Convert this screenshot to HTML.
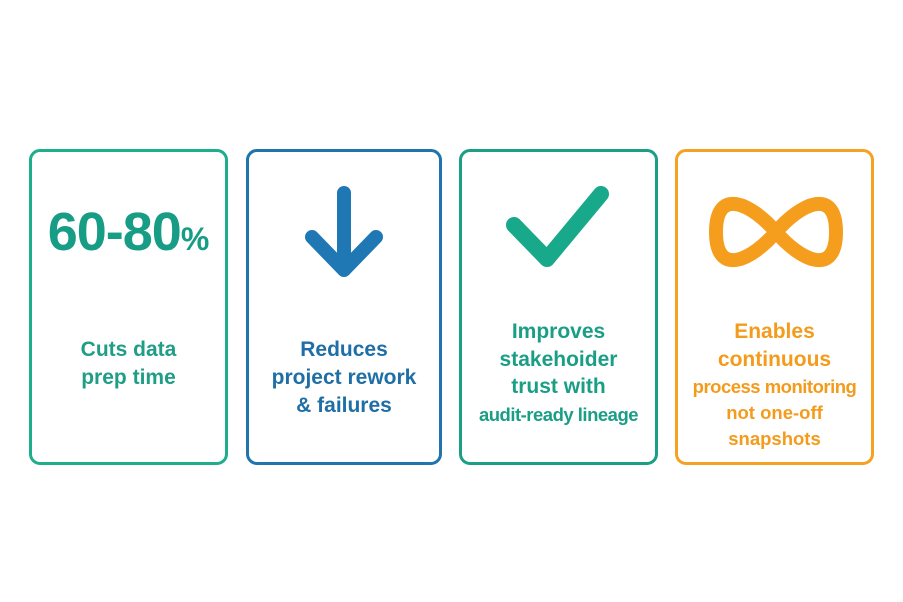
<!DOCTYPE html>
<html><head><style>
body{margin:0;width:903px;height:602px;background:#fff;position:relative;font-family:"Liberation Sans",sans-serif;overflow:hidden}
.card{position:absolute;top:149px;height:310px;border:3px solid;border-radius:11px;box-sizing:content-box}
.t{position:absolute;left:0;width:100%;text-align:center;font-weight:bold;white-space:nowrap;transform:translateY(-50%)}
svg{position:absolute;left:0;top:0}
</style></head><body>
<div class="card" style="left:29px;width:193px;border-color:#1fae8c"></div>
<div class="card" style="left:246px;width:190px;border-color:#1f74ad"></div>
<div class="card" style="left:459px;width:193px;border-color:#1a9e86"></div>
<div class="card" style="left:675px;width:193px;border-color:#f6a124"></div>

<div class="t" style="left:29px;width:199px;top:232px;font-size:54px;color:#179c85;letter-spacing:-1px">60-80<span style="font-size:32px;letter-spacing:0">%</span></div>
<div class="t" style="left:29px;width:199px;top:350px;font-size:21px;color:#1f9e86">Cuts data</div>
<div class="t" style="left:29px;width:199px;top:378px;font-size:21px;color:#1f9e86">prep time</div>

<div class="t" style="left:246px;width:196px;top:350px;font-size:21px;color:#1f6fa6">Reduces</div>
<div class="t" style="left:246px;width:196px;top:378px;font-size:21px;color:#1f6fa6">project rework</div>
<div class="t" style="left:246px;width:196px;top:406px;font-size:21px;color:#1f6fa6">&amp; failures</div>

<div class="t" style="left:459px;width:199px;top:332px;font-size:21px;color:#1a9e86">Improves</div>
<div class="t" style="left:459px;width:199px;top:360px;font-size:21px;color:#1a9e86">stakehoider</div>
<div class="t" style="left:459px;width:199px;top:387px;font-size:21px;color:#1a9e86">trust with</div>
<div class="t" style="left:459px;width:199px;top:415px;font-size:18.5px;color:#1a9e86;letter-spacing:-0.5px">audit-ready lineage</div>

<div class="t" style="left:675px;width:199px;top:332px;font-size:21px;color:#f49b1c">Enables</div>
<div class="t" style="left:675px;width:199px;top:360px;font-size:21px;color:#f49b1c">continuous</div>
<div class="t" style="left:675px;width:199px;top:387px;font-size:18.5px;color:#f49b1c;letter-spacing:-0.5px">process monitoring</div>
<div class="t" style="left:675px;width:199px;top:413px;font-size:18.5px;color:#f49b1c">not one-off</div>
<div class="t" style="left:675px;width:199px;top:439px;font-size:18.5px;color:#f49b1c">snapshots</div>

<svg width="903" height="602">
<g stroke="#1f78b4" stroke-width="14" fill="none" stroke-linecap="round" stroke-linejoin="round">
<line x1="344" y1="193" x2="344" y2="268"/>
<polyline points="312,237 344,270 376,237"/>
</g>
<polyline points="514,225 547,259 601,194" stroke="#17a98a" stroke-width="16" fill="none" stroke-linecap="round" stroke-linejoin="round"/>
<path d="M776,232 C800,204 836,186 836,232 C836,278 800,260 776,232 C752,204 716,186 716,232 C716,278 752,260 776,232 Z" stroke="#f59e1e" stroke-width="14" fill="none"/>
</svg>
</body></html>
